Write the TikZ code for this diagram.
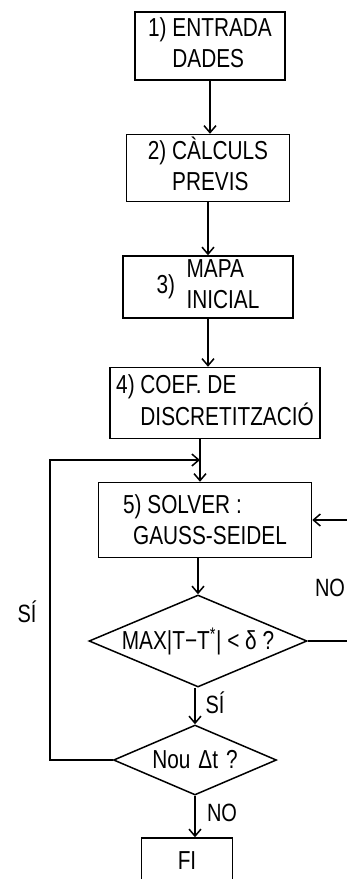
\documentclass[tikz,border=0pt]{standalone}
\usepackage{fontspec}
\setmainfont{Liberation Sans}[FakeStretch=0.8]
\usetikzlibrary{arrows.meta,shapes.geometric,calc}
\begin{document}
\begin{tikzpicture}[x=1pt,y=-1pt,
  every node/.style={font=\fontsize{26}{31}\selectfont},
  box/.style={draw,line width=1.5pt,rectangle,inner sep=0pt},
  dec/.style={draw,line width=1.5pt,diamond,inner sep=0pt,aspect=2.4,font=\fontsize{26}{30}\selectfont},
  arr/.style={line width=1.5pt,-{Straight Barb[length=7pt,width=12pt,line width=1.5pt]}},
  lbl/.style={inner sep=1pt,font=\fontsize{25}{28}\selectfont}]
\useasboundingbox (0,0) rectangle (346,879);
\coordinate (col) at (200,0);
\coordinate (lc) at (50,460);
\coordinate (rc) at (352,0);
\node[box,minimum width=150pt,minimum height=68pt] (b1) at (210,46)
  {1)~\begin{tabular}[t]{@{}l@{}}ENTRADA\\DADES\end{tabular}};
\node[box,minimum width=163pt,minimum height=67pt] (b2) at (208,168)
  {2)~\begin{tabular}[t]{@{}l@{}}CÀLCULS\\PREVIS\end{tabular}};
\node[box,minimum width=170pt,minimum height=62pt] (b3) at (208,287)
  {3)~~\begin{tabular}{@{}l@{}}MAPA\\INICIAL\end{tabular}};
\node[box,minimum width=210pt,minimum height=71pt] (b4) at (215,403)
  {4)~\begin{tabular}[t]{@{}l@{}}COEF.\ DE\\DISCRETITZACIÓ\end{tabular}};
\node[box,minimum width=213pt,minimum height=75pt,align=left] (b5) at (205,520)
  {5) SOLVER :\\\hspace*{10pt}GAUSS-SEIDEL};
\node[dec,minimum width=218pt,minimum height=92pt] (d1) at (198,641)
  {MAX|T−T\textsuperscript{*}| < δ ?};
\node[dec,minimum width=163pt,minimum height=70pt] (d2) at (195,760)
  {Nou\hspace{8pt}Δt\hspace{8pt}?};
\node[box,minimum width=91pt,minimum height=46pt] (fi) at (187,861) {FI};
\node[lbl] (s1) at (27,612) {SÍ};
\node[lbl] (n1) at (330,588) {NO};
\node[lbl] (s2) at (215,703) {SÍ};
\node[lbl] (n2) at (222,813) {NO};
\draw[arr] (b1.south) -- (b1.south |- b2.north);
\draw[arr] (b2.south) -- (b2.south |- b3.north);
\draw[arr] (b3.south) -- (b3.south |- b4.north);
\draw[arr] (b4.south -| col) -- (b5.north -| col);
\draw[arr] (b5.south -| d1.north) -- (d1.north);
\draw[arr] (d1.south -| d2.north) -- (d2.north);
\draw[arr] (d2.south) -- (d2.south |- fi.north);
\draw[arr] (d2.west) -| (lc) -- (lc -| col);
\draw[arr] (d1.east) -| (rc |- b5.east) -- (b5.east);
\end{tikzpicture}
\end{document}
